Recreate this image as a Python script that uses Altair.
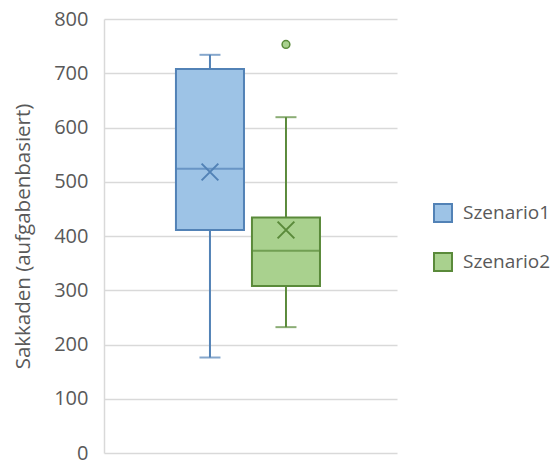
import altair as alt
import pandas as pd

# Box-and-whisker statistics per scenario
series = ["Szenario1", "Szenario2"]
lower_whisker = [176, 232]
q1 = [411, 308]
median = [524, 373]
q3 = [708, 434]
upper_whisker = [734, 619]
mean = [518, 411]

# Outlying observations
outlier_series = ["Szenario2"]
outlier_values = [753]

fills = ["#9DC3E6", "#A9D18E"]
strokes = ["#5282B6", "#5A8A3A"]

stats = pd.DataFrame({
    "series": series,
    "lower": lower_whisker,
    "q1": q1,
    "median": median,
    "q3": q3,
    "upper": upper_whisker,
    "mean": mean,
})
outliers = pd.DataFrame({"series": outlier_series, "value": outlier_values})

FONT = "Open Sans"
TEXT = "#595959"
GRID = "#D9D9D9"

x_enc = alt.X(
    "series:N",
    sort=series,
    scale=alt.Scale(paddingInner=0.105, paddingOuter=0.98, align=0.483),
    axis=None,
)
y_scale = alt.Scale(domain=[0, 800], nice=False, zero=True)
fill_scale = alt.Scale(domain=series, range=fills)
stroke_scale = alt.Scale(domain=series, range=strokes)
tick_scale = alt.Scale(domain=series, range=strokes)


def legend_spec():
    return alt.Legend(orient="none", legendX=329, legendY=184, title=None)


fill_enc = alt.Fill("series:N", scale=fill_scale, legend=legend_spec())
stroke_enc = alt.Stroke("series:N", scale=stroke_scale, legend=legend_spec())
tick_color = alt.Color("series:N", scale=tick_scale, legend=None)

base = alt.Chart(stats).encode(x=x_enc)

# Box body
box = base.mark_bar(strokeWidth=2).encode(
    y=alt.Y("q1:Q", scale=y_scale,
            axis=alt.Axis(title="Sakkaden (aufgabenbasiert)", values=list(range(0, 801, 100)))),
    y2="q3:Q",
    fill=fill_enc,
    stroke=stroke_enc,
)
# Whiskers
whisker_hi = base.mark_rule(strokeWidth=2).encode(
    y=alt.Y("q3:Q", scale=y_scale), y2="upper:Q", stroke=stroke_enc,
)
whisker_lo = base.mark_rule(strokeWidth=2).encode(
    y=alt.Y("lower:Q", scale=y_scale), y2="q1:Q", stroke=stroke_enc,
)
cap_hi = base.mark_tick(size=21, thickness=2).encode(
    y=alt.Y("upper:Q", scale=y_scale), color=tick_color,
)
cap_lo = base.mark_tick(size=21, thickness=2).encode(
    y=alt.Y("lower:Q", scale=y_scale), color=tick_color,
)
# Median line
med = base.mark_tick(size=68, thickness=2).encode(
    y=alt.Y("median:Q", scale=y_scale), color=tick_color,
)
# Mean marker (x)
mean_mark = base.mark_point(
    shape="M-1,-1L1,1M-1,1L1,-1", size=280, filled=False, strokeWidth=2, opacity=1
).encode(
    y=alt.Y("mean:Q", scale=y_scale), stroke=stroke_enc,
)
# Outliers
out_mark = alt.Chart(outliers).mark_circle(size=60, opacity=1, strokeWidth=1.5).encode(
    x=x_enc,
    y=alt.Y("value:Q", scale=y_scale),
    fill=fill_enc,
    stroke=stroke_enc,
)

chart = (
    alt.layer(box, whisker_hi, whisker_lo, cap_hi, cap_lo, med, mean_mark, out_mark)
    .properties(
        width=293,
        height=434,
        autosize=alt.AutoSizeParams(type="none"),
        padding={"left": 104, "top": 19, "right": 162, "bottom": 8},
    )
    .configure_view(stroke=None)
    .configure_axis(
        labelFont=FONT, labelFontSize=20, labelColor=TEXT,
        titleFont=FONT, titleFontSize=20.5, titleColor=TEXT, titleFontWeight="normal",
        grid=True, gridColor=GRID, gridWidth=1.5,
        domain=True, domainColor=GRID, domainWidth=1.5,
        ticks=False, labelPadding=16, titlePadding=20,
    )
    .configure_legend(
        labelFont=FONT, labelFontSize=19, labelColor=TEXT,
        symbolType="square", symbolSize=324, symbolStrokeWidth=2,
        rowPadding=23, labelOffset=10,
    )
)

chart.save("out.html", embed_options={"renderer": "svg", "actions": False})
